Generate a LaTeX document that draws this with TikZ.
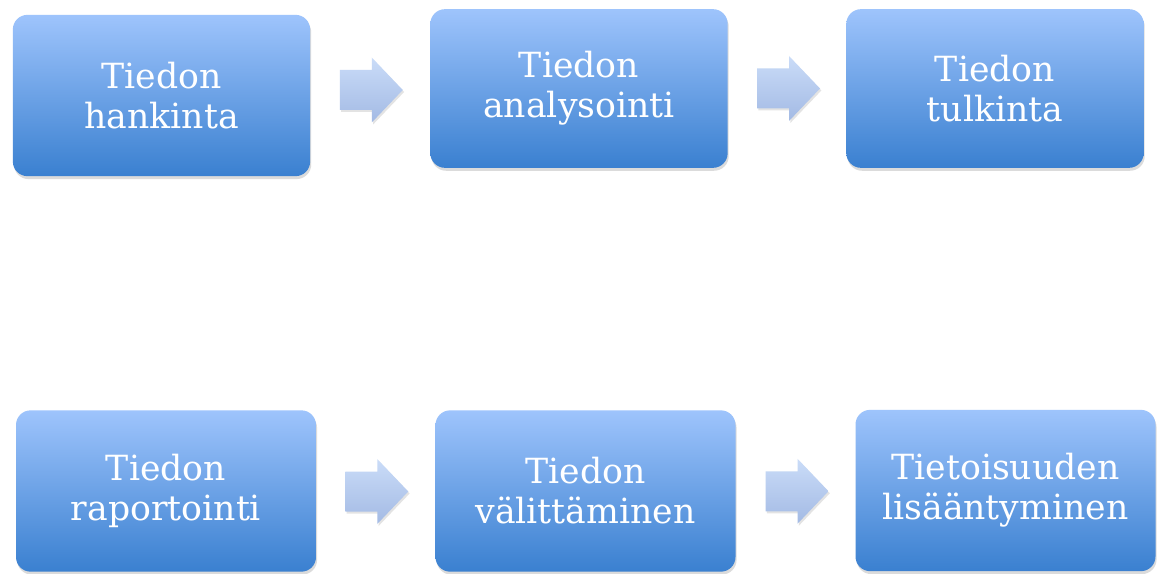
\documentclass[tikz,border=0pt]{standalone}
\usepackage{fontspec}
\setmainfont{DejaVu Serif}
\usetikzlibrary{calc}
\usetikzlibrary{shadows, positioning}

\definecolor{boxtop}{HTML}{9EC4FC}
\definecolor{boxbottom}{HTML}{3A80D0}
\definecolor{arrowtop}{HTML}{CADCF8}
\definecolor{arrowbottom}{HTML}{A3BAE4}

\begin{document}
\begin{tikzpicture}[x=0.75pt,y=-0.75pt,
    box/.style={rectangle, rounded corners=11pt, minimum width=223pt, minimum height=121pt,
        top color=boxtop, bottom color=boxbottom, draw=none, text=white, align=center,
        font=\fontsize{26}{30}\selectfont,
        drop shadow={opacity=0.28, shadow xshift=0.8pt, shadow yshift=-2.2pt}},
    blockarrow/.pic={
        \path[top color=arrowtop, bottom color=arrowbottom,
            drop shadow={opacity=0.22, shadow xshift=1pt, shadow yshift=-1.5pt}]
            (-31.5,-20) -- (0.5,-20) -- (0.5,-32.5) -- (31.5,0) -- (0.5,32.5)
            -- (0.5,20) -- (-31.5,20) -- cycle;
    }]

% page
\fill[white] (0,0) rectangle (1157,574);
\useasboundingbox (0,0) rectangle (1157,574);

% Top row
\node[box] (hankinta) at (161.5,95.5) {Tiedon\\hankinta};
\node[box, minimum height=119pt] (analysointi) at (579,88.5) {Tiedon\\analysointi};
\node[box, minimum height=119pt] (tulkinta) at (995,88.5) {Tiedon\\tulkinta};

% Bottom row
\node[box, minimum width=225pt] (raportointi) at (166,491) {Tiedon\\raportointi};
\node[box, minimum width=225pt] (valittaminen) at (585.5,491) {Tiedon\\välittäminen};
\node[box, minimum width=225pt] (lisaantyminen) at (1005.5,490.5) {Tietoisuuden\\lisääntyminen};

% Block arrows between the boxes
\pic at ($(hankinta.east)!0.5!(analysointi.west)+(1,-2)$) {blockarrow};
\pic at ($(analysointi.east)!0.5!(tulkinta.west)+(1.5,0)$) {blockarrow};
\pic at ($(raportointi.east)!0.5!(valittaminen.west)+(1,0.5)$) {blockarrow};
\pic at ($(valittaminen.east)!0.5!(lisaantyminen.west)+(1.5,0.5)$) {blockarrow};

\end{tikzpicture}
\end{document}
